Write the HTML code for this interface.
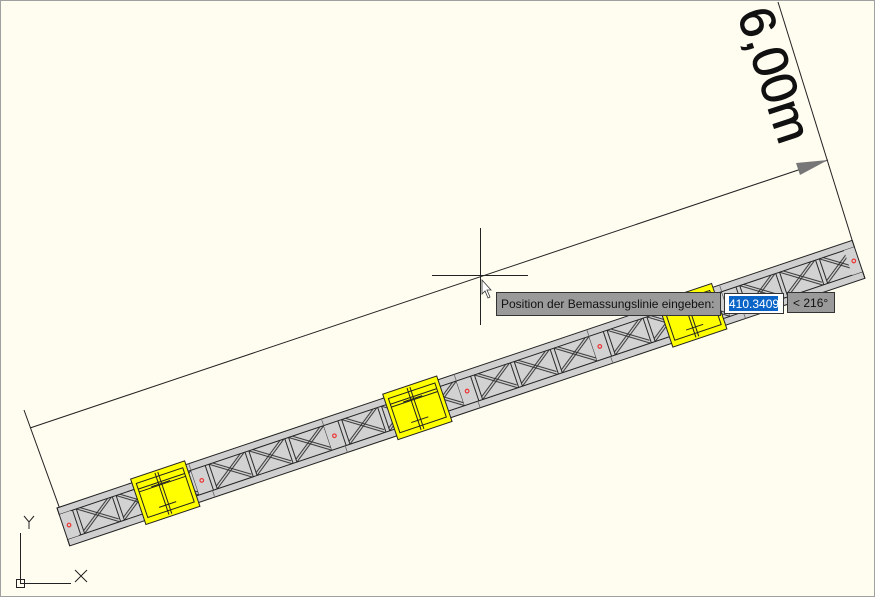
<!DOCTYPE html>
<html><head><meta charset="utf-8"><style>
html,body{margin:0;padding:0;background:#fffcf0;}
body{width:875px;height:597px;overflow:hidden;position:relative;font-family:"Liberation Sans",sans-serif;}
</style></head><body>
<svg width="875" height="597" viewBox="0 0 875 597" xmlns="http://www.w3.org/2000/svg" style="position:absolute;left:0;top:0">
<defs>
<pattern id="tr" patternUnits="userSpaceOnUse" x="-1" y="0" width="140" height="40">
<rect width="140" height="40" fill="#d2d2d2"/>
<g stroke="#2a2a2a" stroke-width="1" fill="none">
<g id="pn">
<path d="M15 7 V33 M19 7 V33"/>
<path d="M19 7 L56 33 M23 7 L56 30 M19 33 L56 7 M19 30 L52 7"/>
</g>
<use href="#pn" x="42"/>
<use href="#pn" x="84"/>
<path d="M140 7 V33"/>
</g>
</pattern>
</defs>
<rect x="0.5" y="0.5" width="874" height="596" fill="#fffcf0" stroke="#a0a0a0"/>
<!-- dimension -->
<g stroke="#222" stroke-width="1" fill="none">
<line x1="24" y1="410" x2="61" y2="512"/>
<line x1="778" y1="2" x2="853" y2="243"/>
<line x1="30" y1="428" x2="828" y2="160"/>
</g>
<polygon points="828,160 796,163 800,175" fill="#777"/>
<text x="0" y="0" font-size="50" fill="#111" stroke="#111" stroke-width="0.8" font-family="Liberation Sans,sans-serif" transform="translate(737,14) rotate(72)">6,00m</text>
<!-- beam -->
<g transform="translate(57,508) rotate(-18.6)">
<rect x="0" y="0" width="839" height="40" fill="url(#tr)"/>
<rect x="0" y="0" width="839" height="7" fill="#cfcfcf" stroke="#222" stroke-width="1"/>
<rect x="0" y="33" width="839" height="7" fill="#cfcfcf" stroke="#222" stroke-width="1"/>
<rect x="0" y="7" width="12" height="26" fill="#d2d2d2"/>
<rect x="828" y="7" width="11" height="26" fill="#d2d2d2"/>
<line x1="0" y1="0" x2="0" y2="40" stroke="#222"/>
<line x1="839" y1="0" x2="839" y2="40" stroke="#222"/>
<g stroke="#666" stroke-width="0.8">
<line x1="139" y1="0" x2="139" y2="7"/><line x1="153" y1="33" x2="153" y2="40"/>
<line x1="279" y1="0" x2="279" y2="7"/><line x1="293" y1="33" x2="293" y2="40"/>
<line x1="419" y1="0" x2="419" y2="7"/><line x1="433" y1="33" x2="433" y2="40"/>
<line x1="559" y1="0" x2="559" y2="7"/><line x1="573" y1="33" x2="573" y2="40"/>
<line x1="699" y1="0" x2="699" y2="7"/><line x1="713" y1="33" x2="713" y2="40"/>
</g>
<g fill="none" stroke="#e33" stroke-width="1.2">
<circle cx="6" cy="20" r="1.8"/><circle cx="146" cy="20" r="1.8"/><circle cx="286" cy="20" r="1.8"/>
<circle cx="426" cy="20" r="1.8"/><circle cx="566" cy="20" r="1.8"/><circle cx="834" cy="20" r="1.8"/>
</g>
<g id="bx" stroke="#222" stroke-width="1" fill="#ffff00">
<rect x="79" y="-4" width="57" height="48"/>
<g fill="none">
<rect x="83" y="2" width="49" height="36"/>
<line x1="83" y1="8" x2="132" y2="8"/><line x1="83" y1="11" x2="132" y2="11"/>
<line x1="104" y1="-2" x2="104" y2="42"/><line x1="107" y1="-2" x2="107" y2="42"/>
<line x1="96" y1="10" x2="116" y2="10"/><line x1="97" y1="32" x2="115" y2="32"/>
</g>
</g>
<use href="#bx" x="266"/>
<use href="#bx" x="556"/>
</g>
<!-- crosshair -->
<g stroke="#222" stroke-width="1">
<line x1="432" y1="275.5" x2="528" y2="275.5"/>
<line x1="480.5" y1="228" x2="480.5" y2="325"/>
</g>
<path d="M482 280 L482 294 L485 291 L488 298 L490 297 L487 290 L491 290 Z" fill="#fff" stroke="#333" stroke-width="0.8"/>
<!-- tooltip -->
<rect x="496.5" y="292.5" width="224" height="23" fill="#9a9a9a" stroke="#333"/>
<text x="501" y="308" font-size="12" fill="#111">Position der Bemassungslinie eingeben:</text>
<rect x="724.5" y="293.5" width="59" height="20" fill="#fff" stroke="#333"/>
<rect x="729" y="296" width="49" height="15" fill="#0a64c8"/>
<text x="729" y="308" font-size="12" fill="#fff">410.3409</text>
<rect x="787.5" y="292.5" width="47" height="20" fill="#9a9a9a" stroke="#333"/>
<text x="793" y="307" font-size="12" fill="#111">&lt; 216°</text>
<!-- UCS -->
<g stroke="#222" stroke-width="1" fill="none">
<line x1="20.5" y1="533" x2="20.5" y2="583"/>
<line x1="20" y1="583.5" x2="71" y2="583.5"/>
<rect x="16.5" y="579.5" width="8" height="8"/>
<path d="M24 516 L29 522 L34 516 M29 522 V529"/>
<path d="M75 570 L87 582 M87 570 L75 582"/>
</g>
</svg>
</body></html>
